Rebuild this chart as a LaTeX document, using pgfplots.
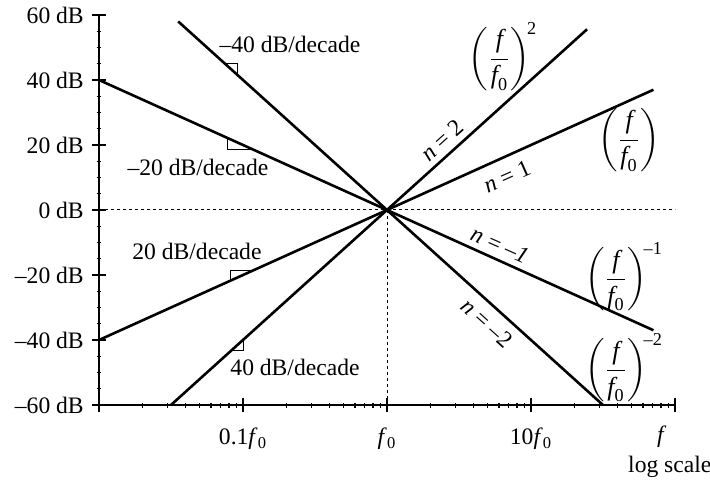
\documentclass[border=0pt]{standalone}
\usepackage{amsmath}
\usepackage{fontspec}
\setmainfont{Liberation Serif}
\usepackage{pgfplots}
\pgfplotsset{compat=1.18}

\newcommand{\ff}{\frac{\textit{f}}{\textit{f}_{\text{0}}}}

\begin{document}
\fontsize{11.8}{14}\selectfont
\begin{tikzpicture}
\begin{axis}[
    scale only axis, width=288pt, height=195pt,
    xmode=log, xmin=0.01, xmax=100, ymin=-60, ymax=60,
    axis x line=bottom, axis y line=left,
    axis line style={-, line width=0.7pt},
    xtick={0.01,0.1,1,10,100},
    xticklabels={,0.1\textit{f}\textsubscript{0},\textit{f}\textsubscript{0},10\textit{f}\textsubscript{0},},
    ytick={-60,-40,...,60},
    yticklabels={–60 dB,–40 dB,–20 dB,0 dB,20 dB,40 dB,60 dB},
    minor ytick={-55,-50,-45,-35,-30,-25,-15,-10,-5,5,10,15,25,30,35,45,50,55},
    tick style={black, line width=0.6pt},
    major tick length=7pt, minor tick length=2.5pt,
    major tick style={tick align=center},
    minor tick style={tick align=inside},
    tick label style={font=\fontsize{11.8}{14}\selectfont},
    xticklabel style={yshift=-4pt},
    clip=false,
]
% reference lines at 0 dB and f0
\addplot[line width=0.5pt, dash pattern=on 1.5pt off 1.5pt] coordinates {(0.01,0) (100,0)};
\addplot[line width=0.5pt, dash pattern=on 1.5pt off 1.5pt] coordinates {(1,0) (1,-60)};
% asymptotes
\addplot[line width=1.3pt] coordinates {(0.01,-40) (70.8,37)};      % n=1
\addplot[line width=1.3pt] coordinates {(0.01,40) (70.8,-37)};      % n=-1
\addplot[line width=1.3pt] coordinates {(0.0316,-60) (24.5,55.6)}; % n=2
\addplot[line width=1.3pt] coordinates {(0.0355,58) (31.6,-60)};    % n=-2
% slope markers
\addplot[line width=0.5pt] coordinates {(0.0750,45.0) (0.0923,45.0) (0.0923,41.4)};
\addplot[line width=0.5pt] coordinates {(0.0776,22.2) (0.0776,18.7) (0.1135,18.7)};
\addplot[line width=0.5pt] coordinates {(0.0813,-21.8) (0.0813,-18.5) (0.1191,-18.5)};
\addplot[line width=0.5pt] coordinates {(0.1,-40) (0.1,-43.3) (0.0826,-43.3)};
% labels
\node at (axis cs:0.212,50.8) {–40 dB/decade};
\node at (axis cs:0.0487,13.2) {–20 dB/decade};
\node at (axis cs:0.0479,-12.9) {20 dB/decade};
\node at (axis cs:0.2297,-48.3) {40 dB/decade};
\node[rotate=42] at (axis cs:2.41,21.5) {\textit{n} = 2};
\node[rotate=24] at (axis cs:6.81,10.2) {\textit{n} = 1};
\node[rotate=-24] at (axis cs:6.09,-10.8) {\textit{n} = –\textit{1}};
\node[rotate=-42] at (axis cs:4.95,-34.8) {\textit{n} = –2};
\node[scale=1.1] at (axis cs:6.4,47.2) {$\displaystyle\left(\ff\right)^{\!\text{2}}$};
\node[scale=1.1] at (axis cs:48,21.5) {$\displaystyle\left(\ff\right)$};
\node[scale=1.1] at (axis cs:44.3,-20.6) {$\displaystyle\left(\ff\right)^{\!\text{–1}}$};
\node[scale=1.1] at (axis cs:44.3,-48.6) {$\displaystyle\left(\ff\right)^{\!\text{–2}}$};
\node at (axis cs:81,-69.8) {\textit{f}};
\node at (axis cs:92,-79) {log scale};
\end{axis}
\pgfresetboundingbox
\path (-49.5pt,-39pt) rectangle (305.5pt,202.5pt);
\end{tikzpicture}
\end{document}
